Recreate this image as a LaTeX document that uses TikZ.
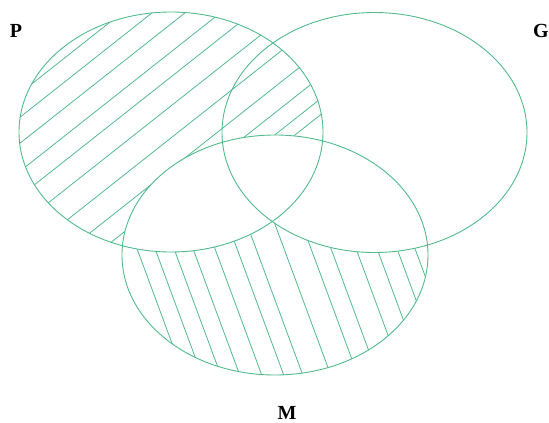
\documentclass[tikz,border=0pt]{standalone}
\usepackage{fontspec}
\setmainfont{Liberation Serif}
\usetikzlibrary{positioning}
\definecolor{venngreen}{RGB}{82,186,142}

\begin{document}
\begin{tikzpicture}[
    x=1pt, y=-1pt,
    setline/.style={draw=venngreen, line width=0.9pt},
    hatch/.style={draw=venngreen, line width=0.8pt},
    setlbl/.style={font=\fontsize{20}{24}\selectfont\bfseries, inner sep=0pt, text=black},
]
\useasboundingbox (0,0) rectangle (549,423);

% --- hatching of P (outside M) ---
\begin{scope}
  \clip (171,132) ellipse [x radius=152, y radius=120];
  \foreach \c in {109,133,159,187,212,241,273,304,330,352,368}
    \draw[hatch] (0,{\c}) -- (350,{\c-276.5});
\end{scope}
\fill[white] (275,255) ellipse [x radius=153, y radius=120];

% --- hatching of M (outside P and G) ---
\begin{scope}
  \clip (275,255) ellipse [x radius=153, y radius=120];
  \foreach \m in {156,174,193,212,234,256,275,303,330,350,375,396,416,434}
    \draw[hatch] ({\m-62.9},130) -- ({\m+33.3},390);
  \fill[white] (171,132) ellipse [x radius=152, y radius=120];
  \fill[white] (374.5,132.5) ellipse [x radius=152.5, y radius=120];
\end{scope}

% --- the three sets ---
\draw[setline] (171,132) ellipse [x radius=152, y radius=120];
\draw[setline] (374.5,132.5) ellipse [x radius=152.5, y radius=120];
\draw[setline] (275,255) ellipse [x radius=153, y radius=120];

% --- labels ---
\node[setlbl] (lblP) at (16,31)  {P};
\node[setlbl] (lblG) at (541,31) {G};
\node[setlbl] (lblM) at (287,413) {M};
\end{tikzpicture}
\end{document}
